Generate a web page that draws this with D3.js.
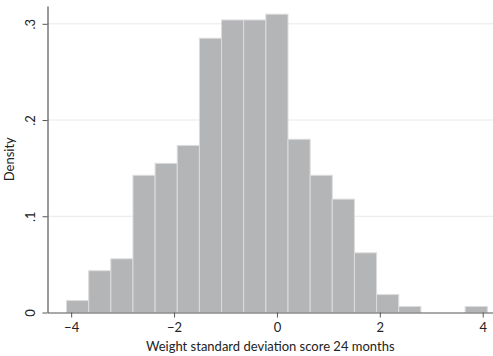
<!DOCTYPE html>
<html>
<head>
<meta charset="utf-8">
<script src="https://cdn.jsdelivr.net/npm/d3@7"></script>
<style>
  body { margin: 0; background: #fff; }
  svg { display: block; font-family: Lato, "Open Sans", sans-serif; }
</style>
</head>
<body>
<svg width="493" height="356"></svg>
<script>
// histogram bins: start, width, and density of each bin
const binStart = -4.09;
const binWidth = 0.4305;
const densities = [0.0124, 0.0434, 0.0558, 0.1426, 0.155, 0.1736, 0.285, 0.304,
  0.304, 0.31, 0.18, 0.1426, 0.1178, 0.062, 0.0186, 0.0062, 0, 0, 0.0062];
const xTicks = [-4, -2, 0, 2, 4];
const yTicks = [0, 0.1, 0.2, 0.3];
const yTickLabels = ['0', '.1', '.2', '.3'];

const margin = { top: 6, right: 0, bottom: 43.5, left: 47.5 };
const width = 493 - margin.left - margin.right;
const height = 356 - margin.top - margin.bottom;

const x = d3.scaleLinear().domain([-4.46, 4.2]).range([0, width]);
const y = d3.scaleLinear().domain([0, 0.3185]).range([height, 0]);

const svg = d3.select('svg');
const g = svg.append('g')
    .attr('transform', `translate(${margin.left},${margin.top})`);

// gridlines
g.selectAll('line.grid')
    .data(yTicks.slice(1))
    .enter()
    .append('line')
    .attr('class', 'grid')
    .attr('x1', 0)
    .attr('x2', width)
    .attr('y1', d => y(d))
    .attr('y2', d => y(d))
    .style('stroke', '#e8e8e8')
    .style('stroke-width', 1);

const bins = densities.map((d, i) => ({ x0: binStart + i * binWidth, x1: binStart + (i + 1) * binWidth, d }));

g.selectAll('rect')
    .data(bins.filter(b => b.d > 0))
    .enter()
    .append('rect')
    .attr('x', b => x(b.x0))
    .attr('y', b => y(b.d))
    .attr('width', b => x(b.x1) - x(b.x0))
    .attr('height', b => height - y(b.d))
    .style('fill', '#b4b5b7')
    .style('stroke', '#dcdcdc')
    .style('stroke-width', 1);

const xAxis = g.append('g')
    .attr('transform', `translate(0,${height})`)
    .call(d3.axisBottom(x).tickValues(xTicks).tickSize(5).tickSizeOuter(0));

const yAxis = g.append('g')
    .call(d3.axisLeft(y).tickValues(yTicks).tickFormat((d, i) => yTickLabels[i]).tickSize(5).tickSizeOuter(0));

[xAxis, yAxis].forEach(a => {
  a.select('.domain').style('stroke', '#555').style('stroke-width', 1.2);
  a.selectAll('.tick line').style('stroke', '#555');
  a.selectAll('.tick text').style('fill', '#222').style('font-size', '13px').style('font-family', 'Lato, sans-serif');
});
xAxis.selectAll('.tick text').attr('dy', '0.9em');

// rotate y tick labels
yAxis.selectAll('.tick text')
    .attr('x', null)
    .attr('dy', null)
    .attr('text-anchor', 'middle')
    .attr('transform', 'translate(-13,0) rotate(-90)');

g.append('text')
    .attr('x', width / 2)
    .attr('y', height + 38)
    .attr('text-anchor', 'middle')
    .style('font-size', '13px')
    .style('fill', '#222')
    .text('Weight standard deviation score 24 months');

g.append('text')
    .attr('transform', `translate(${-34},${height / 2}) rotate(-90)`)
    .attr('text-anchor', 'middle')
    .style('font-size', '13px')
    .style('fill', '#222')
    .text('Density');
</script>
</body>
</html>
